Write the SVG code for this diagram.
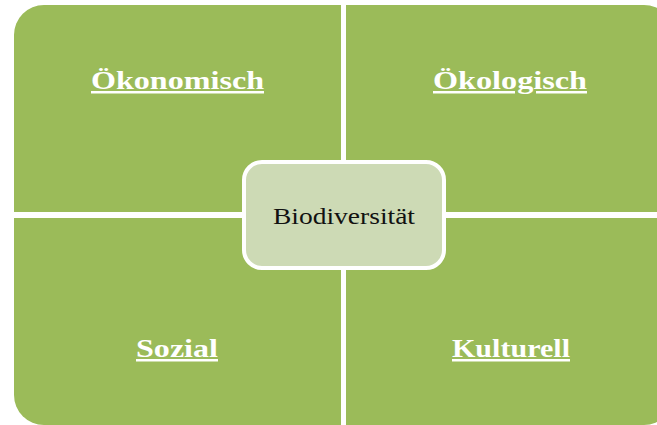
<svg xmlns="http://www.w3.org/2000/svg" width="657" height="425" viewBox="0 0 657 425">
  <style>
    .quad { fill: #9BBB59; }
    .title { font-family: "Liberation Serif", "Times New Roman", serif; font-weight: bold; font-size: 25px; fill: #FFFFFF; text-anchor: middle; text-decoration: underline; }
    .center-box { fill: #CDDAB5; stroke: #FFFFFF; stroke-width: 4; }
    .center-text { font-family: "Liberation Serif", "Times New Roman", serif; font-size: 24px; fill: #111111; text-anchor: middle; }
  </style>
  <rect width="657" height="425" fill="#FFFFFF"/>
  <g id="oekonomisch">
    <path class="quad" d="M14,35 A30,30 0 0 1 44,5 L341,5 L341,212 L14,212 Z"/>
    <text class="title" x="177.5" y="89" textLength="173" lengthAdjust="spacingAndGlyphs">Ökonomisch</text>
  </g>
  <g id="oekologisch">
    <path class="quad" d="M346,5 L644,5 A30,30 0 0 1 674,35 L674,212 L346,212 Z"/>
    <text class="title" x="510" y="89" textLength="154" lengthAdjust="spacingAndGlyphs">Ökologisch</text>
  </g>
  <g id="sozial">
    <path class="quad" d="M14,218 L341,218 L341,425 L44,425 A30,30 0 0 1 14,395 Z"/>
    <text class="title" x="177" y="357" textLength="82" lengthAdjust="spacingAndGlyphs">Sozial</text>
  </g>
  <g id="kulturell">
    <path class="quad" d="M346,218 L674,218 L674,395 A30,30 0 0 1 644,425 L346,425 Z"/>
    <text class="title" x="511" y="357" textLength="118" lengthAdjust="spacingAndGlyphs">Kulturell</text>
  </g>
  <g id="connectors"></g>
  <g id="biodiversitaet">
    <rect class="center-box" x="244" y="162" width="200" height="106" rx="18" ry="18"/>
    <text class="center-text" x="344" y="224" textLength="142" lengthAdjust="spacingAndGlyphs">Biodiversität</text>
  </g>
</svg>
